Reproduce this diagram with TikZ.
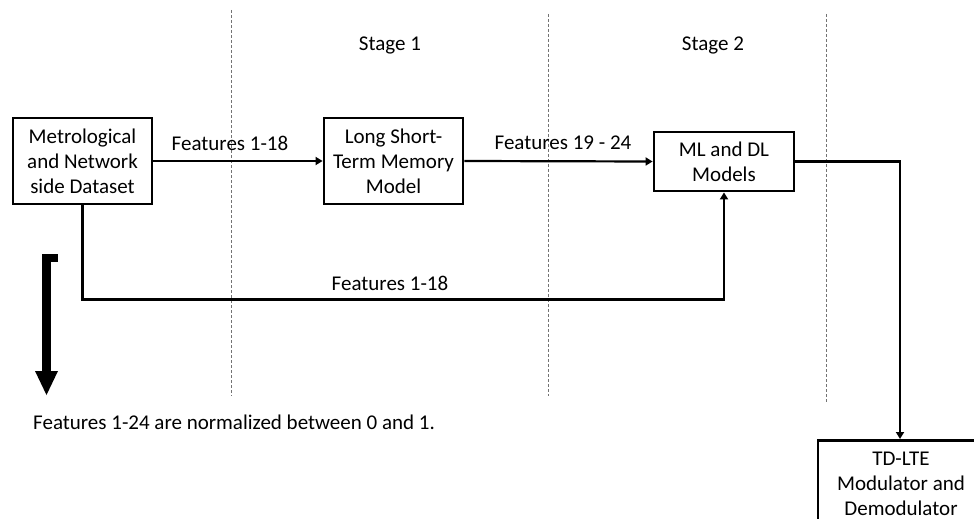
\documentclass[tikz,border=0pt]{standalone}
\usepackage{fontspec}
\setmainfont{Carlito}
\usetikzlibrary{arrows.meta}
\begin{document}
\begin{tikzpicture}[x=1pt,y=-1pt,
  every node/.style={font=\fontsize{21}{25}\selectfont, inner sep=0pt},
  blk/.style={draw, line width=2.8pt, align=center},
  conn/.style={line width=2.2pt, -{Triangle[length=7pt,width=8pt]}},
  divider/.style={draw=black!55, line width=0.9pt, dash pattern=on 3pt off 2pt},
  lbl/.style={anchor=center, align=center}]
\useasboundingbox (0,0) rectangle (974,519);
\clip (0,0) rectangle (974,519);
% dividers
\draw[divider] (231,10) -- (231,396);
\draw[divider] (548,14) -- (548,396);
\draw[divider] (826,14) -- (826,402);
% stage labels
\node[lbl] (s1) at (390,45) {Stage 1};
\node[lbl] (s2) at (713,45) {Stage 2};
% blocks
\node[blk, minimum width=139pt, minimum height=86pt] (ds) at (82.5,161) {Metrological\\and Network\\side Dataset};
\node[blk, minimum width=139pt, minimum height=86pt] (lstm) at (393.5,161) {Long Short-\\Term Memory\\Model};
\node[blk, minimum width=140pt, minimum height=59pt] (ml) at (724,161.5) {ML and DL\\Models};
\node[blk, minimum width=164pt, minimum height=92pt, anchor=north] (td) at (900,439) {};
\node[lbl] (tdt) at (901,484) {TD-LTE\\Modulator and\\Demodulator};
% connectors
\draw[conn] (ds.east) -- (lstm.west);
\draw[conn] (lstm.east) -- (ml.west);
\draw[conn] (ds.south) -- ++(0,94) -| (ml.south);
\draw[conn] (ml.east) -| (td.north);
% labels
\node[lbl] (f1) at (230,143) {Features 1-18};
\node[lbl] (f2) at (563,143) {Features 19 - 24};
\node[lbl] (f3) at (390,283) {Features 1-18};
\node[anchor=west] (note) at (33,422) {Features 1-24 are normalized between 0 and 1.};
% big arrow
\fill (42,254) rectangle (58,262);
\fill (42,254) rectangle (51,372);
\fill (35,371) -- (58,371) -- (46.5,395) -- cycle;
\end{tikzpicture}
\end{document}
